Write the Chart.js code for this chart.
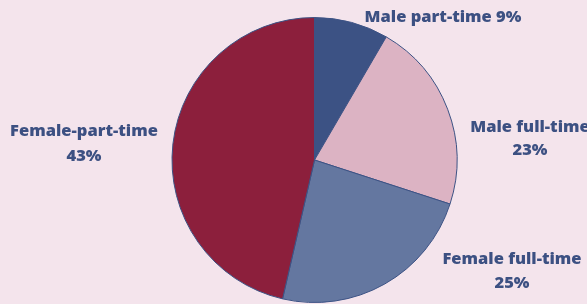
<!DOCTYPE html>
<html>
<head>
<meta charset="utf-8">
<script src="https://cdn.jsdelivr.net/npm/chart.js@4/dist/chart.umd.min.js"></script>
<style>
  html, body { margin: 0; padding: 0; background: #f4e4ec; }
  #wrap { width: 587px; height: 304px; }
</style>
</head>
<body>
<div id="wrap"><canvas id="pie"></canvas></div>
<script>
// slice shares as drawn in the picture, label text as printed
const categories = ['Male part-time', 'Male full-time', 'Female full-time', 'Female-part-time'];
const shares = [8.4, 21.6, 23.6, 46.4];
const pctLabels = ['9%', '23%', '25%', '43%'];
const colours = ['#3c5284', '#dcb3c3', '#6477a0', '#8c1f3c'];

// text labels drawn beside the pie
const labelPlugin = {
    id: 'sliceLabels',
    afterDraw(chart) {
        const ctx = chart.ctx;
        ctx.save();
        ctx.fillStyle = '#3c5082';
        ctx.font = '800 16.5px "Open Sans"';
        ctx.textAlign = 'center';
        ctx.textBaseline = 'middle';
        // Male part-time on one line
        ctx.fillText(categories[0] + ' ' + pctLabels[0], 443, 17);
        ctx.fillText(categories[1], 530, 127);
        ctx.fillText(pctLabels[1], 530, 150);
        ctx.fillText(categories[2], 512, 259);
        ctx.fillText(pctLabels[2], 512, 283);
        ctx.fillText(categories[3], 84, 131);
        ctx.fillText(pctLabels[3], 84, 156);
        ctx.restore();
    }
};

new Chart(document.getElementById('pie'), {
    type: 'pie',
    data: {
        labels: categories,
        datasets: [{
            data: shares,
            backgroundColor: colours,
            borderColor: '#3c5284',
            borderWidth: 1
        }]
    },
    options: {
        responsive: true,
        maintainAspectRatio: false,
        animation: false,
        layout: { padding: { top: 17, bottom: 1, left: 42, right: 0 } },
        plugins: {
            legend: { display: false },
            tooltip: { enabled: false }
        }
    },
    plugins: [labelPlugin]
});
</script>
</body>
</html>
